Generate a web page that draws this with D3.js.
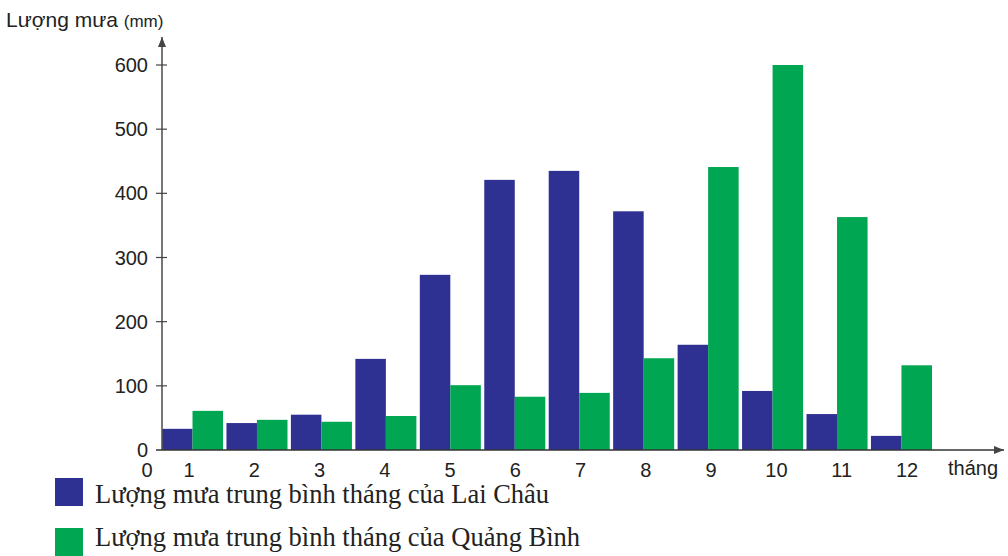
<!DOCTYPE html>
<html>
<head>
<meta charset="utf-8">
<script src="https://cdn.jsdelivr.net/npm/d3@7"></script>
<style>
  body { margin: 0; background: #fff; }
  svg { display: block; }
</style>
</head>
<body>
<svg id="chart" width="1008" height="556"></svg>
<script>
// Dữ liệu lượng mưa trung bình tháng (mm)
const thang = ["1", "2", "3", "4", "5", "6", "7", "8", "9", "10", "11", "12"];
const laiChau = [33, 42, 55, 142, 273, 421, 435, 372, 164, 92, 56, 22];
const quangBinh = [61, 47, 44, 53, 101, 83, 89, 143, 441, 600, 363, 132];
const yTicks = [0, 100, 200, 300, 400, 500, 600];
const tenSeries = ["Lượng mưa trung bình tháng của Lai Châu", "Lượng mưa trung bình tháng của Quảng Bình"];
const mau = ["#2e3192", "#00a651"];

const svg = d3.select("#chart");
const originX = 162, originY = 450;

const x0 = d3.scaleBand()
    .domain(thang)
    .range([originX, 932])
    .paddingInner(0.053)
    .paddingOuter(0);

const x1 = d3.scaleBand()
    .domain([0, 1])
    .range([0, x0.bandwidth()]);

// nhãn tháng được đặt hơi giãn hơn so với các cột
const xLabel = d3.scalePoint()
    .domain(thang)
    .range([189, 907]);

const y = d3.scaleLinear()
    .domain([0, 600])
    .range([originY, 65]);

const data = thang.map((m, i) => ({ thang: m, values: [laiChau[i], quangBinh[i]] }));

// Cột
svg.append("g")
    .selectAll("g")
    .data(data)
    .join("g")
    .attr("transform", d => `translate(${x0(d.thang)},0)`)
    .selectAll("rect")
    .data(d => d.values.map((v, k) => ({ k, v })))
    .join("rect")
    .attr("x", d => x1(d.k))
    .attr("y", d => y(d.v))
    .attr("width", x1.bandwidth())
    .attr("height", d => y(0) - y(d.v))
    .attr("fill", d => mau[d.k]);

// Mũi tên
svg.append("defs").append("marker")
    .attr("id", "arrow")
    .attr("viewBox", "0 0 10 10")
    .attr("refX", 10).attr("refY", 5)
    .attr("markerWidth", 10).attr("markerHeight", 10)
    .attr("markerUnits", "userSpaceOnUse")
    .attr("orient", "auto")
    .append("path")
    .attr("d", "M0,1 L10,5 L0,9 Z")
    .attr("fill", "#444");

// Trục tung
svg.append("line")
    .attr("x1", originX).attr("y1", originY)
    .attr("x2", originX).attr("y2", 37)
    .attr("stroke", "#555").attr("stroke-width", 1.6)
    .attr("marker-end", "url(#arrow)");

// Trục hoành
svg.append("line")
    .attr("x1", originX - 6).attr("y1", originY)
    .attr("x2", 1004).attr("y2", originY)
    .attr("stroke", "#333").attr("stroke-width", 1.4)
    .attr("marker-end", "url(#arrow)");

const yAxis = svg.append("g");
yAxis.selectAll("line")
    .data(yTicks.filter(t => t > 0))
    .join("line")
    .attr("x1", originX - 6).attr("x2", originX + 5)
    .attr("y1", d => y(d)).attr("y2", d => y(d))
    .attr("stroke", "#444").attr("stroke-width", 1.2);

yAxis.selectAll("text")
    .data(yTicks)
    .join("text")
    .attr("x", 148)
    .attr("y", d => y(d) + 7)
    .attr("text-anchor", "end")
    .attr("font-family", "Liberation Sans, Arial, sans-serif")
    .attr("font-size", 20)
    .attr("fill", "#222")
    .text(d => d);

// Nhãn tháng
svg.append("g")
    .selectAll("text")
    .data(thang)
    .join("text")
    .attr("x", d => xLabel(d))
    .attr("y", 477)
    .attr("text-anchor", "middle")
    .attr("font-family", "Liberation Sans, Arial, sans-serif")
    .attr("font-size", 20)
    .attr("fill", "#222")
    .text(d => d);

svg.append("text")
    .attr("x", 147).attr("y", 477)
    .attr("text-anchor", "middle")
    .attr("font-family", "Liberation Sans, Arial, sans-serif")
    .attr("font-size", 20)
    .attr("fill", "#222")
    .text("0");

svg.append("text")
    .attr("x", 948).attr("y", 475)
    .attr("font-family", "Liberation Sans, Arial, sans-serif")
    .attr("font-size", 20)
    .attr("fill", "#222")
    .text("tháng");

// Tiêu đề trục tung
const yTitle = svg.append("text")
    .attr("x", 6).attr("y", 27)
    .attr("font-family", "Liberation Sans, Arial, sans-serif")
    .attr("fill", "#222");
yTitle.append("tspan").attr("font-size", 21).text("Lượng mưa ");
yTitle.append("tspan").attr("font-size", 17).text("(mm)");

// Chú giải
const legend = svg.append("g")
    .selectAll("g")
    .data(tenSeries)
    .join("g");

legend.append("rect")
    .attr("x", 55)
    .attr("y", (d, i) => 478 + i * 50)
    .attr("width", 28).attr("height", 28)
    .attr("fill", (d, i) => mau[i]);

legend.append("text")
    .attr("x", 95)
    .attr("y", (d, i) => 503 + i * 43)
    .attr("font-family", "Liberation Serif, Times New Roman, serif")
    .attr("font-size", 26.5)
    .attr("fill", "#222")
    .text(d => d);
</script>
</body>
</html>
